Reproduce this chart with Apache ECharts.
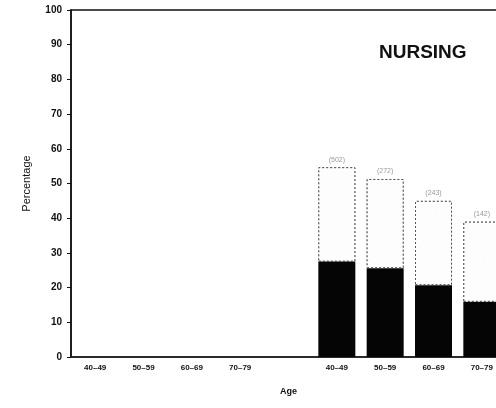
<!DOCTYPE html>
<html>
<head>
<meta charset="utf-8">
<style>
  html, body { margin: 0; padding: 0; background: #fff; }
  #chart { width: 496px; height: 408px; }
</style>
<script src="https://cdn.jsdelivr.net/npm/echarts@6/dist/echarts.min.js"></script>
</head>
<body>
<div id="chart"></div>
<script>
// two age groups side by side, blank slot between them
const ageGroups = ['40–49', '50–59', '60–69', '70–79', '', '40–49', '50–59', '60–69', '70–79'];
const solidPart = [null, null, null, null, null, 27.5, 25.6, 20.7, 15.9];
const dottedPart = [null, null, null, null, null, 27.2, 25.7, 24.3, 23.1];
const barNotes = ['', '', '', '', '', '(502)', '(272)', '(243)', '(142)'];
const yTicks = [0, 10, 20, 30, 40, 50, 60, 70, 80, 90, 100];

const chart = echarts.init(document.getElementById('chart'));
const font = 'Liberation Sans, Arial, sans-serif';

chart.setOption({
  animation: false,
  backgroundColor: '#fff',
  textStyle: { fontFamily: font, color: '#000' },
  title: {
    text: 'NURSING',
    left: 374,
    top: 38,
    textStyle: { fontSize: 19, fontWeight: 'bold', color: '#111', fontFamily: font }
  },
  grid: {
    left: 71, right: -10, top: 10, bottom: 51,
    outerBoundsMode: 'none',
    show: true, borderColor: '#111', borderWidth: 1.5
  },
  xAxis: {
    type: 'category',
    data: ageGroups,
    name: 'Age',
    nameLocation: 'middle',
    nameGap: 30,
    nameTextStyle: { fontSize: 9, fontWeight: 'bold', color: '#111' },
    axisLine: { lineStyle: { color: '#222', width: 1.5 } },
    axisTick: {
      alignWithLabel: true,
      length: 4,
      interval: (i, v) => v !== '',
      lineStyle: { color: '#222' }
    },
    axisLabel: { fontSize: 8, fontWeight: 'bold', color: '#111', margin: 7, interval: 0 }
  },
  yAxis: {
    type: 'value',
    min: 0,
    max: 100,
    interval: 10,
    name: 'Percentage',
    nameLocation: 'middle',
    nameGap: 39,
    nameRotate: 90,
    nameTextStyle: { fontSize: 11, color: '#111' },
    axisLine: { show: true, lineStyle: { color: '#111', width: 1.5 } },
    axisTick: { show: true, length: 4, lineStyle: { color: '#111' } },
    axisLabel: {
      fontSize: 10, fontWeight: 'bold', color: '#111', margin: 9,
      formatter: (v) => (yTicks.includes(v) ? String(v) : '')
    },
    splitLine: { show: false }
  },
  series: [
    {
      name: 'solid',
      type: 'bar',
      stack: 'total',
      barWidth: 37,
      data: solidPart,
      itemStyle: { color: '#050505' }
    },
    {
      name: 'dotted',
      type: 'bar',
      stack: 'total',
      barWidth: 37,
      data: dottedPart,
      itemStyle: {
        color: '#fdfdfd',
        borderColor: '#555',
        borderWidth: 1,
        borderType: [2, 2],
        decal: {
          symbol: 'circle',
          symbolSize: 0.5,
          color: 'rgba(0,0,0,0.18)',
          backgroundColor: '#fdfdfd',
          dashArrayX: [1, 6],
          dashArrayY: [1, 7],
          rotation: 0.4
        }
      },
      label: {
        show: true,
        position: 'top',
        distance: 4,
        fontSize: 7,
        color: '#999',
        formatter: (p) => barNotes[p.dataIndex]
      }
    }
  ]
});
</script>
</body>
</html>
